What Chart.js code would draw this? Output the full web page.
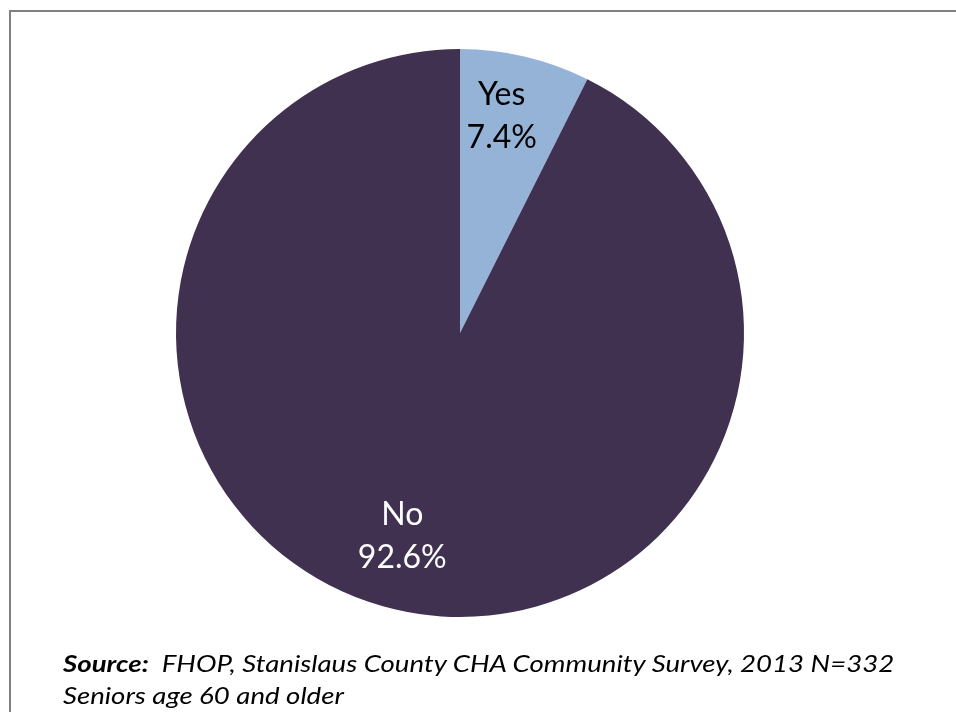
<!DOCTYPE html>
<html>
<head>
<meta charset="utf-8">
<script src="https://cdn.jsdelivr.net/npm/chart.js@4/dist/chart.umd.min.js"></script>
<style>
  html, body { margin: 0; padding: 0; background: #fff; }
  #wrap { position: relative; width: 956px; height: 712px; overflow: hidden; }
  #frame {
    position: absolute; left: 9px; top: 10px; right: -10px; bottom: -10px;
    border-top: 2px solid #808080; border-left: 2px solid #808080;
  }
  #pie { position: absolute; left: 0; top: 0; }
  #source {
    position: absolute; left: 63px; top: 647px;
    font-family: Lato, "Open Sans", sans-serif; font-style: italic;
    font-size: 23px; line-height: 32px; color: #000; white-space: nowrap;
    transform: scaleX(1.2); transform-origin: 0 0;
  }
  #source b { font-weight: bold; }
</style>
</head>
<body>
<div id="wrap">
  <div id="frame"></div>
  <canvas id="pie" width="956" height="712"></canvas>
  <div id="source"><b>Source:</b>&nbsp; FHOP, Stanislaus County CHA Community Survey, 2013 N=332<br>Seniors age 60 and older</div>
</div>
<script>
const labels = ['Yes', 'No'];
const values = [7.4, 92.6];
const sliceColors = ['#95B3D7', '#403151'];
const labelColors = ['#000000', '#ffffff'];

const LABEL_RADIUS = 0.76;
const LABEL_DX = -8;
const LABEL_DY = -7;

// slice names and percentages drawn inside the slices
const sliceLabels = {
  id: 'sliceLabels',
  afterDatasetsDraw(chart) {
    const ctx = chart.ctx;
    const meta = chart.getDatasetMeta(0);
    ctx.save();
    ctx.font = '32px Lato, "Open Sans", sans-serif';
    ctx.textAlign = 'center';
    ctx.textBaseline = 'middle';
    meta.data.forEach((arc, i) => {
      const p = arc.getProps(['x', 'y', 'startAngle', 'endAngle', 'outerRadius'], true);
      const mid = (p.startAngle + p.endAngle) / 2;
      const r = p.outerRadius * LABEL_RADIUS;
      const x = p.x + Math.cos(mid) * r + LABEL_DX;
      const y = p.y + Math.sin(mid) * r + LABEL_DY;
      ctx.fillStyle = labelColors[i];
      ctx.fillText(labels[i], x, y - 21);
      ctx.fillText(values[i].toFixed(1) + '%', x, y + 22);
    });
    ctx.restore();
  }
};

new Chart(document.getElementById('pie'), {
  type: 'pie',
  data: {
    labels: labels,
    datasets: [{
      data: values,
      backgroundColor: sliceColors,
      borderWidth: 0,
    }],
  },
  options: {
    responsive: false,
    animation: false,
    layout: { padding: { left: 176, right: 212, top: 49, bottom: 95 } },
    plugins: {
      legend: { display: false },
      tooltip: { enabled: false },
    },
  },
  plugins: [sliceLabels],
});
</script>
</body>
</html>
